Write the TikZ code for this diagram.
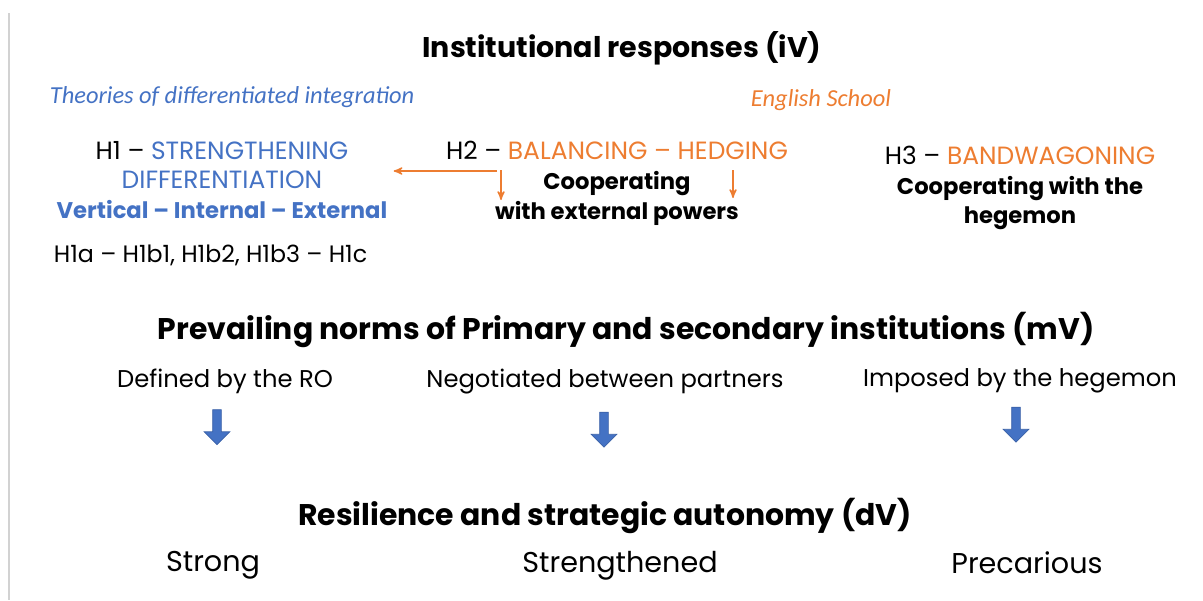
\documentclass[tikz,border=0pt]{standalone}
\usepackage{fontspec}
\setmainfont{Poppins}
\newfontfamily\carlito{Carlito}
\usetikzlibrary{arrows, shapes.arrows}

\definecolor{hblue}{HTML}{4472C4}
\definecolor{horange}{HTML}{ED7D31}

\newcommand{\bline}[1]{{\fontsize{12.9}{17}\selectfont\bfseries #1}}

\begin{document}
\begin{tikzpicture}[>=stealth', semithick,
		heading/.style={font=\fontsize{17}{20}\selectfont\bfseries},
		hyp/.style={align=center, font=\fontsize{14.2}{17}\selectfont},
		school/.style={font=\fontsize{13.9}{16}\selectfont\carlito\itshape},
		level/.style={font=\fontsize{13.8}{16}\selectfont},
		outcome/.style={font=\fontsize{16.3}{19}\selectfont},
		downarrow/.style={single arrow, fill=hblue, draw=hblue!85!black, thin,
			rotate=-90, minimum height=0.7cm, inner sep=0.08cm,
			single arrow head extend=0.17cm},
		orangearrow/.style={->, color=horange, line width=0.8pt}]
		\useasboundingbox (0,0) rectangle (24.06,-12);
		\draw[gray!35, line width=1pt] (0.18,-0.26) -- (0.18,-12);
		
		\node[heading, font=\fontsize{16.2}{20}\selectfont\bfseries] (iv) at (12.44,-0.96) {Institutional responses (iV)};
		\node[school, text=hblue, anchor=west] (dit) at (0.87,-1.94) {Theories of differentiated integration};
		\node[school, text=horange] (es) at (16.42,-2.0) {English School};
		
		\node[hyp] (h1) at (4.44,-3.6) {H1 -- \textcolor{hblue}{STRENGTHENING}\\
			\textcolor{hblue}{DIFFERENTIATION}\\
			\textcolor{hblue}{\bline{Vertical -- Internal -- External}}};
		\node[hyp] (h2) at (12.34,-3.66) {H2 -- \textcolor{horange}{BALANCING -- HEDGING}\\
			\bline{Cooperating}\\
			\bline{with external powers}};
		\node[hyp] (h3) at (20.4,-3.76) {H3 -- \textcolor{horange}{BANDWAGONING}\\
			\bline{Cooperating with the}\\
			\bline{hegemon}};
		\node[font=\fontsize{13.5}{16}\selectfont, anchor=west] (h1sub) at (0.95,-5.1) {H1a -- H1b1, H1b2, H1b3 -- H1c};
		
		\coordinate (h2l) at (9.94,-3.42);
		\coordinate (h2a) at (10.02,-3.4);
		\coordinate (h2ae) at (10.02,-4.0);
		\coordinate (h2b) at (14.66,-3.4);
		\coordinate (h2be) at (14.66,-3.96);
		\draw[orangearrow] (h2l) -- (h2l -| h1.east);
		\draw[orangearrow] (h2a) -- (h2ae);
		\draw[orangearrow] (h2b) -- (h2be);
		
		\node[heading] (mv) at (12.52,-6.6) {Prevailing norms of Primary and secondary institutions (mV)};
		\node[level] (ro) at (4.5,-7.63) {Defined by the RO};
		\node[level] (neg) at (12.1,-7.64) {Negotiated between partners};
		\node[level] (imp) at (20.4,-7.62) {Imposed by the hegemon};
		
		\node[downarrow] (a1) at (4.34,-8.5) {};
		\node[downarrow] (a2) at (12.08,-8.55) {};
		\node[downarrow] (a3) at (20.32,-8.45) {};
		
		\node[heading] (dv) at (12.1,-10.32) {Resilience and strategic autonomy (dV)};
		\node[outcome] (strong) at (4.26,-11.3) {Strong};
		\node[outcome] (sthd) at (12.4,-11.32) {Strengthened};
		\node[outcome] (prec) at (20.54,-11.25) {Precarious};
	\end{tikzpicture}
\end{document}
